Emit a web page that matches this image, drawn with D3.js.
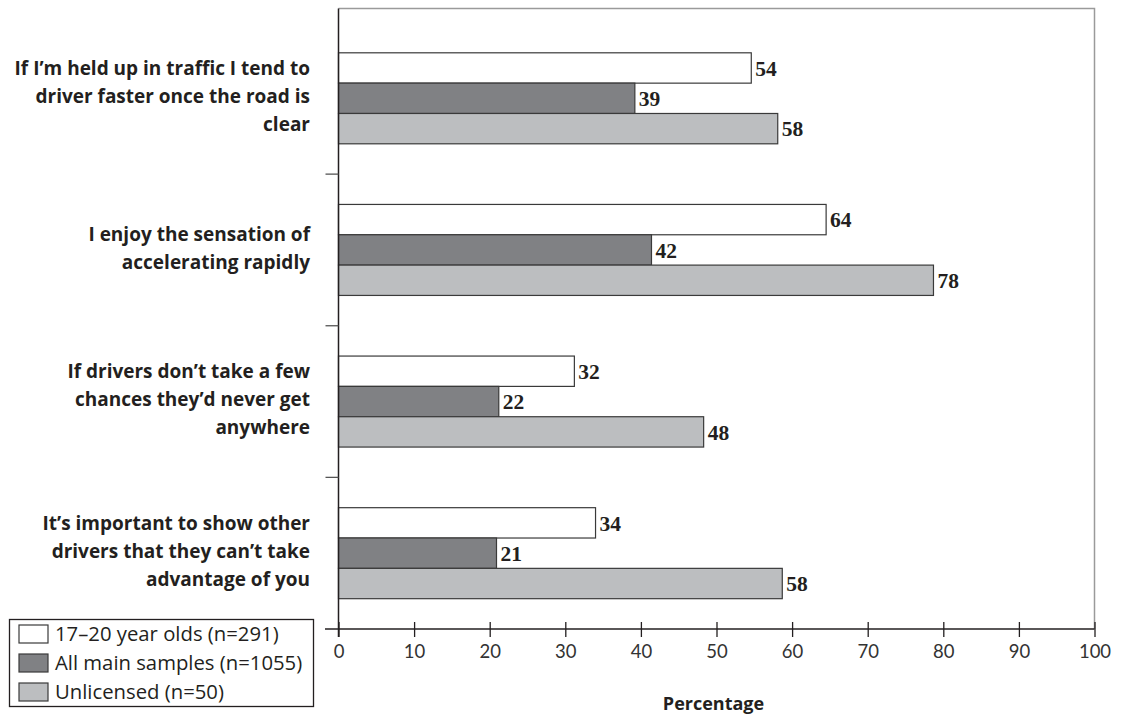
<!DOCTYPE html>
<html>
<head>
<meta charset="utf-8">
<script src="https://cdn.jsdelivr.net/npm/d3@7"></script>
<style>
  html, body { margin: 0; padding: 0; background: #fff; }
  svg { display: block; }
</style>
</head>
<body>
<svg id="chart" width="1123" height="717"></svg>
<script>
// ---- data ----
const categories = [
  ["If I’m held up in traffic I tend to", "driver faster once the road is", "clear"],
  ["I enjoy the sensation of", "accelerating rapidly"],
  ["If drivers don’t take a few", "chances they’d never get", "anywhere"],
  ["It’s important to show other", "drivers that they can’t take", "advantage of you"]
];
const seriesNames = ["17–20 year olds (n=291)", "All main samples (n=1055)", "Unlicensed (n=50)"];
const youngValues    = [54.6, 64.5, 31.2, 34.0];
const allValues      = [39.2, 41.4, 21.2, 20.9];
const unlicValues    = [58.1, 78.7, 48.3, 58.7];
const youngLabels    = [54, 64, 32, 34];
const allLabels      = [39, 42, 22, 21];
const unlicLabels    = [58, 78, 48, 58];
const xTicks = [0, 10, 20, 30, 40, 50, 60, 70, 80, 90, 100];
const xTitle = "Percentage";

const seriesValues = [youngValues, allValues, unlicValues];
const seriesLabels = [youngLabels, allLabels, unlicLabels];
const colors = ["#ffffff", "#808184", "#bcbec0"];

// ---- layout ----
const svg = d3.select("#chart");
const x0 = 338.5, x1 = 1094.5, yTop = 8.5, yAxis = 629;
const x = d3.scaleLinear().domain([0, 100]).range([x0, x1]);
const y = d3.scaleBand().domain(d3.range(categories.length)).range([22.5, 629]).padding(0);
const inner = d3.scaleBand().domain(d3.range(3)).range([0, 91]).padding(0);
const groupOffset = (y.bandwidth() - 91) / 2;

// frame (top and right)
svg.append("path")
  .attr("d", `M${x0},${yTop}H${x1}V${yAxis}`)
  .attr("fill", "none").attr("stroke", "#9a9a9a").attr("stroke-width", 1.5);

// bars
const groups = svg.selectAll("g.grp").data(categories).enter().append("g")
  .attr("class", "grp")
  .attr("transform", (d, i) => `translate(0,${y(i) + groupOffset})`);

groups.each(function(d, i) {
  const g = d3.select(this);
  seriesValues.forEach((vals, s) => {
    g.append("rect")
      .attr("x", x(0))
      .attr("y", inner(s))
      .attr("width", x(vals[i]) - x(0))
      .attr("height", inner.bandwidth())
      .attr("fill", colors[s])
      .attr("stroke", "#3a3a3a")
      .attr("stroke-width", 1.2);
    g.append("text")
      .attr("x", x(vals[i]) + 4)
      .attr("y", inner(s) + inner.bandwidth() / 2)
      .attr("dy", "0.36em")
      .attr("font-family", "'Liberation Serif', serif")
      .attr("font-weight", "bold")
      .attr("font-size", 21.5)
      .attr("fill", "#231f20")
      .text(seriesLabels[s][i]);
  });
});

// category labels
categories.forEach((lines, i) => {
  const cy = y(i) + y.bandwidth() / 2 - 2;
  const lh = 28;
  const t = svg.append("text")
    .attr("text-anchor", "end")
    .attr("font-family", "'Open Sans', sans-serif")
    .attr("font-weight", "bold")
    .attr("font-size", 19)
    .attr("fill", "#231f20");
  lines.forEach((ln, k) => {
    t.append("tspan")
      .attr("x", 310)
      .attr("y", cy + (k - (lines.length - 1) / 2) * lh)
      .attr("dy", "0.35em")
      .text(ln);
  });
});

// y axis line + ticks between groups
svg.append("line")
  .attr("x1", x0).attr("x2", x0).attr("y1", yTop).attr("y2", yAxis + 8)
  .attr("stroke", "#231f20").attr("stroke-width", 1.5);
for (let i = 1; i < categories.length; i++) {
  svg.append("line")
    .attr("x1", x0 - 13).attr("x2", x0)
    .attr("y1", y(i)).attr("y2", y(i))
    .attr("stroke", "#555").attr("stroke-width", 1.3);
}

// x axis
svg.append("line")
  .attr("x1", 325).attr("x2", x1).attr("y1", yAxis).attr("y2", yAxis)
  .attr("stroke", "#231f20").attr("stroke-width", 1.5);
const xAxis = d3.axisBottom(x).tickValues(xTicks).tickSize(0).tickFormat(d3.format("d"));
const gx = svg.append("g").attr("transform", `translate(0,${yAxis})`).call(xAxis);
gx.select(".domain").remove();
gx.selectAll(".tick line").remove();
gx.selectAll(".tick").append("line")
  .attr("y1", -7).attr("y2", 8)
  .attr("stroke", "#231f20").attr("stroke-width", 1.3);
gx.selectAll(".tick text")
  .attr("y", 29).attr("dy", "0")
  .attr("font-family", "Lato, sans-serif")
  .attr("font-size", 18.5)
  .attr("fill", "#333");

svg.append("text")
  .attr("x", (x0 + x1) / 2 - 3).attr("y", 710)
  .attr("text-anchor", "middle")
  .attr("font-family", "'Open Sans', sans-serif")
  .attr("font-weight", "bold")
  .attr("font-size", 18)
  .attr("fill", "#231f20")
  .text(xTitle);

// legend
const lg = svg.append("g");
lg.append("rect")
  .attr("x", 9.5).attr("y", 619.5).attr("width", 304).attr("height", 87)
  .attr("fill", "#fff").attr("stroke", "#231f20").attr("stroke-width", 1.3);
seriesNames.forEach((name, s) => {
  const ry = 625 + s * 29;
  lg.append("rect")
    .attr("x", 19).attr("y", ry).attr("width", 29).attr("height", 18)
    .attr("fill", colors[s]).attr("stroke", "#3a3a3a").attr("stroke-width", 1.2);
  lg.append("text")
    .attr("x", 55).attr("y", ry + 9).attr("dy", "0.36em")
    .attr("font-family", "'Open Sans', sans-serif")
    .attr("font-size", 20.3)
    .attr("fill", "#231f20")
    .text(name);
});
</script>
</body>
</html>
